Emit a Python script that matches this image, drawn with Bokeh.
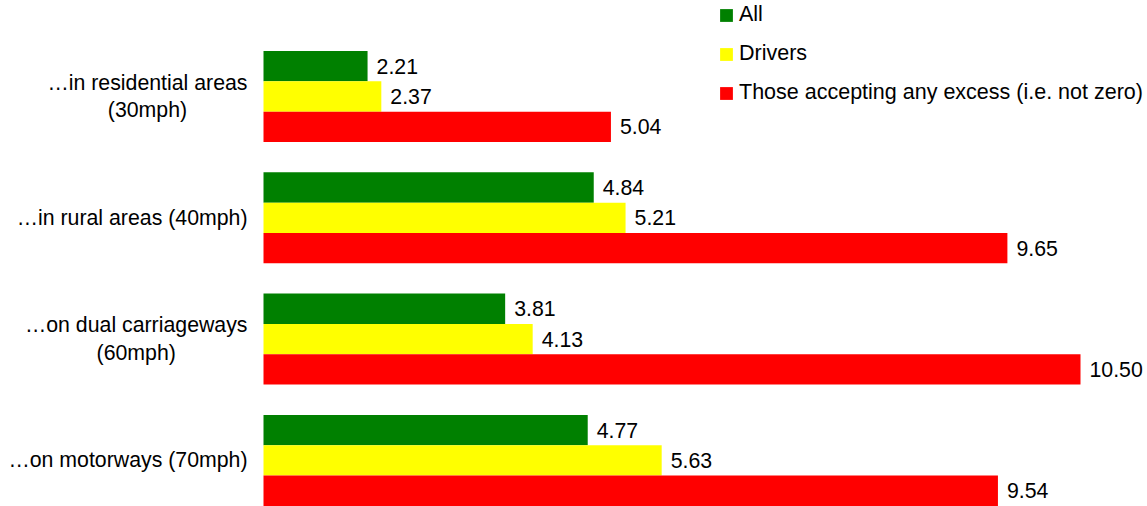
from bokeh.plotting import figure
from bokeh.models import Range1d, ColumnDataSource
from bokeh.core.properties import value
from bokeh.embed import file_html
from bokeh.resources import INLINE

categories = [
    "…in residential areas\n(30mph)",
    "…in rural areas (40mph)",
    "…on dual carriageways\n(60mph)",
    "…on motorways (70mph)",
]
series_names = ["All", "Drivers", "Those accepting any excess (i.e. not zero)"]
all_values = [2.21, 4.84, 3.81, 4.77]
drivers_values = [2.37, 5.21, 4.13, 5.63]
excess_values = [5.04, 9.65, 10.50, 9.54]
series_colors = ["#008000", "#FFFF00", "#FF0000"]

AXIS_MIN = 1.0
FONT = "Liberation Sans"
FS = "21.3px"

W, H = 1147, 506
PX_PER_UNIT_X = 86.0
PLOT_LEFT = 263
PX_PER_CAT = 121.3
FIRST_CAT_Y = 96

x_start = AXIS_MIN - PLOT_LEFT / PX_PER_UNIT_X
x_end = x_start + W / PX_PER_UNIT_X
y_top = -FIRST_CAT_Y / PX_PER_CAT
y_bottom = y_top + H / PX_PER_CAT

p = figure(
    width=W, height=H,
    x_range=Range1d(x_start, x_end),
    y_range=Range1d(y_bottom, y_top),
    output_backend="svg", toolbar_location=None,
    x_axis_location=None, y_axis_location=None,
    min_border=0,
)
p.outline_line_color = None
p.xgrid.visible = False
p.ygrid.visible = False

series_values = [all_values, drivers_values, excess_values]
offsets = [-0.25, 0.0, 0.25]
idx = list(range(len(categories)))

for name, vals, col, off in zip(series_names, series_values, series_colors, offsets):
    src = ColumnDataSource(dict(
        y=[i + off for i in idx],
        right=vals,
        left=[AXIS_MIN] * len(vals),
        label=["%.2f" % v for v in vals],
    ))
    p.hbar(y="y", left="left", right="right", height=0.25, source=src,
           fill_color=col, line_color=None, legend_label=name)
    p.text(x="right", y="y", text="label", source=src, x_offset=9,
           text_align="left", text_baseline="middle",
           text_font=value(FONT), text_font_size=FS, text_color="#000000")

cat_src = ColumnDataSource(dict(
    x=[AXIS_MIN] * len(categories),
    y=idx,
    text=categories,
))
p.text(x="x", y="y", text="text", source=cat_src, x_offset=-16,
       anchor="center_right", text_align="center", text_baseline="middle",
       text_font=value(FONT), text_font_size=FS, text_color="#000000",
       text_line_height=1.15)

lg = p.legend[0]
lg.location = (718, 401)
lg.margin = 0
lg.padding = 0
lg.border_line_color = None
lg.background_fill_alpha = 0
lg.label_text_font = FONT
lg.label_text_font_size = "21.5px"
lg.label_text_color = "#000000"
lg.glyph_width = 16
lg.glyph_height = 16
lg.label_standoff = 5
lg.spacing = 14

open("out.html", "w").write(file_html(p, INLINE))
